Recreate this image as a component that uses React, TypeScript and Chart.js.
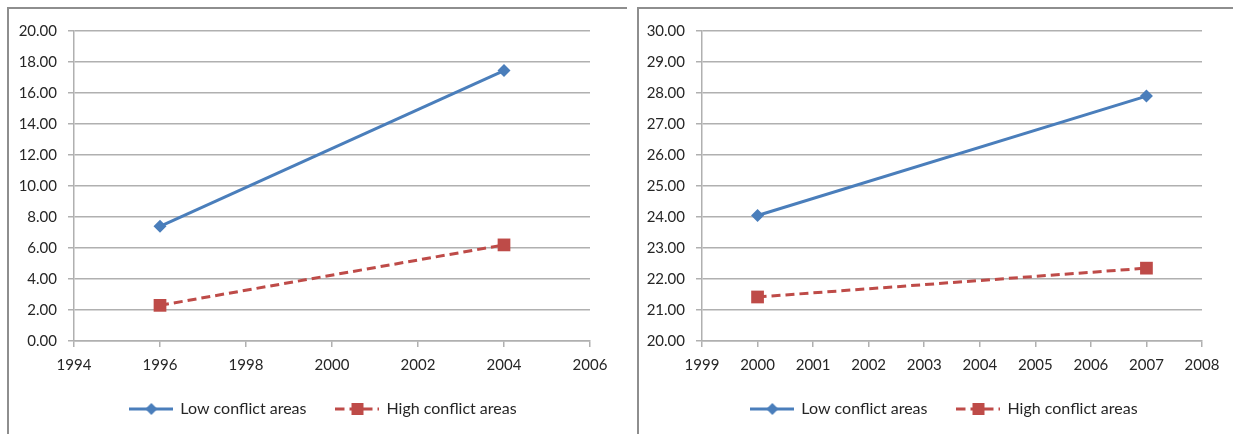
import React, { useEffect, useRef } from 'react';
import { Chart, registerables } from 'chart.js';

Chart.register(...registerables);

// ---- data ----
const seriesLabels = ['Low conflict areas', 'High conflict areas'];

const leftYears = [1996, 2004];
const leftLow = [7.4, 17.45];
const leftHigh = [2.3, 6.2];

const rightYears = [2000, 2007];
const rightLow = [24.05, 27.9];
const rightHigh = [21.42, 22.35];

// ---- styles ----
const BLUE = '#4A7EBB';
const RED = '#BE4B48';
const GRID = '#b0b0b0';
const TEXT = '#262626';
const FONT = 'Lato';

function makeLegendImage(color: string, dash: number[], shape: 'diamond' | 'square'): HTMLCanvasElement {
  const c = document.createElement('canvas');
  c.width = 44;
  c.height = 18;
  const ctx = c.getContext('2d')!;
  ctx.strokeStyle = color;
  ctx.lineWidth = 3;
  ctx.setLineDash(dash);
  ctx.beginPath();
  ctx.moveTo(0, 9);
  ctx.lineTo(44, 9);
  ctx.stroke();
  ctx.setLineDash([]);
  ctx.fillStyle = color;
  ctx.beginPath();
  if (shape === 'diamond') {
    ctx.moveTo(22, 3);
    ctx.lineTo(28, 9);
    ctx.lineTo(22, 15);
    ctx.lineTo(16, 9);
    ctx.closePath();
  } else {
    ctx.rect(16, 3, 12, 12);
  }
  ctx.fill();
  return c;
}

interface PanelProps {
  years: number[];
  low: number[];
  high: number[];
  xMin: number;
  xMax: number;
  xStep: number;
  yMin: number;
  yMax: number;
  yStep: number;
  width: number;
  height: number;
  legendLeft: number;
  yAxisWidth: number;
  padRight: number;
}

function ChartPanel(p: PanelProps) {
  const ref = useRef<HTMLCanvasElement | null>(null);
  useEffect(() => {
    if (!ref.current) return;
    const imgs = [makeLegendImage(BLUE, [], 'diamond'), makeLegendImage(RED, [9, 5], 'square')];
    const legendShift = {
      id: 'legendShift',
      afterLayout(chart: any) {
        if (chart.legend) chart.legend.left = p.legendLeft;
      },
    };
    const chart = new Chart(ref.current, {
      type: 'line',
      data: {
        datasets: [
          {
            label: seriesLabels[0],
            data: p.years.map((x, i) => ({ x, y: p.low[i] })),
            borderColor: BLUE,
            backgroundColor: BLUE,
            borderWidth: 3,
            pointStyle: 'rectRot',
            pointRadius: 6.5,
            pointBorderWidth: 0,
            pointBackgroundColor: BLUE,
          },
          {
            label: seriesLabels[1],
            data: p.years.map((x, i) => ({ x, y: p.high[i] })),
            borderColor: RED,
            backgroundColor: RED,
            borderWidth: 3,
            borderDash: [9, 5],
            pointStyle: 'rect',
            pointRadius: 9,
            pointBorderWidth: 0,
            pointBackgroundColor: RED,
          },
        ],
      },
      options: {
        animation: false,
        responsive: false,
        maintainAspectRatio: false,
        layout: { padding: { top: 22, right: p.padRight, bottom: 7, left: 0 } },
        plugins: {
          tooltip: { enabled: false },
          legend: {
            position: 'bottom',
            labels: {
              usePointStyle: true,
              pointStyleWidth: 42,
              padding: 30,
              color: TEXT,
              font: { family: FONT, size: 16 },
              generateLabels: (ch: any) =>
                ch.data.datasets.map((ds: any, i: number) => ({
                  text: ds.label,
                  pointStyle: imgs[i],
                  fillStyle: ds.borderColor,
                  strokeStyle: ds.borderColor,
                  lineWidth: 0,
                  hidden: false,
                  datasetIndex: i,
                  fontColor: TEXT,
                })),
            },
          },
        },
        scales: {
          x: {
            type: 'linear',
            min: p.xMin,
            max: p.xMax,
            afterFit: (s: any) => {
              s.height = 30;
            },
            ticks: {
              stepSize: p.xStep,
              color: TEXT,
              padding: 9,
              font: { family: FONT, size: 15 },
              callback: (v: any) => String(v),
              maxRotation: 0,
            },
            grid: { drawOnChartArea: false, drawTicks: true, tickLength: 6, color: GRID, lineWidth: 1.5 },
            border: { display: true, color: GRID, width: 1.5 },
          },
          y: {
            type: 'linear',
            min: p.yMin,
            max: p.yMax,
            afterFit: (s: any) => {
              s.width = p.yAxisWidth;
            },
            ticks: {
              stepSize: p.yStep,
              color: TEXT,
              padding: 11,
              font: { family: FONT, size: 15 },
              callback: (v: any) => Number(v).toFixed(2),
            },
            grid: { color: GRID, lineWidth: 1.5, tickLength: 6 },
            border: { display: true, color: GRID, width: 1.5 },
          },
        },
      },
      plugins: [legendShift],
    } as any);
    return () => chart.destroy();
  }, []);
  return <canvas ref={ref} width={p.width} height={p.height} style={{ display: 'block', width: p.width, height: p.height }} />;
}

export default function App() {
  const panelStyle = (left: number, width: number): React.CSSProperties => ({
    position: 'absolute',
    left,
    top: 7,
    width,
    height: 427,
    borderTop: '2px solid #8e8e8e',
    borderLeft: '2px solid #8e8e8e',
    boxSizing: 'border-box',
    background: '#fff',
  });
  return (
    <div style={{ position: 'fixed', left: 0, top: 0, width: 1233, height: 434, background: '#fff', overflow: 'hidden' }}>
      <div style={panelStyle(7, 620)}>
        <ChartPanel
          years={leftYears}
          low={leftLow}
          high={leftHigh}
          xMin={1994}
          xMax={2006}
          xStep={2}
          yMin={0}
          yMax={20}
          yStep={2}
          width={618}
          height={425}
          legendLeft={48}
          yAxisWidth={65}
          padRight={37}
        />
      </div>
      <div style={panelStyle(637, 596)}>
        <ChartPanel
          years={rightYears}
          low={rightLow}
          high={rightHigh}
          xMin={1999}
          xMax={2008}
          xStep={1}
          yMin={20}
          yMax={30}
          yStep={1}
          width={594}
          height={425}
          legendLeft={48}
          yAxisWidth={63}
          padRight={31}
        />
      </div>
    </div>
  );
}
